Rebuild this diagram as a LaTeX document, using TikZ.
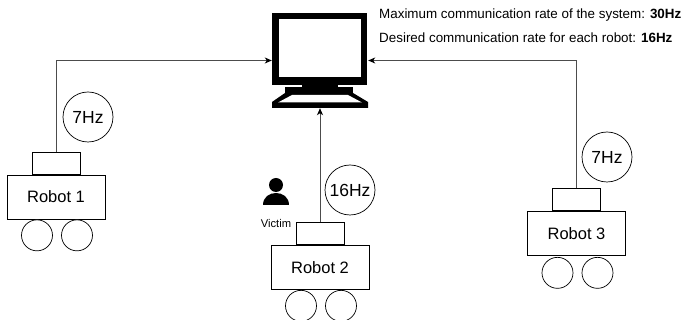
\documentclass[tikz,border=0pt]{standalone}
\usepackage{fontspec}
\setmainfont{Liberation Sans}
\usetikzlibrary{arrows.meta}
\begin{document}
\begin{tikzpicture}[x=1pt,y=-1pt,
  part/.style={draw=black,line width=0.7pt,fill=white,inner sep=0pt},
  body/.style={part,minimum width=98pt,minimum height=44pt,font=\fontsize{16.5}{18}\selectfont},
  mast/.style={part,minimum width=48pt,minimum height=22pt},
  wheel/.style={part,circle,minimum size=31pt},
  rate/.style={draw=black,line width=0.7pt,circle,minimum size=50pt,inner sep=0pt,font=\fontsize{17.5}{19}\selectfont},
  link/.style={draw=black!70,line width=0.9pt,-{Stealth[length=7pt,width=6pt,inset=2pt,black]}},
  info/.style={anchor=west,inner sep=0pt,font=\fontsize{13.4}{16}\selectfont}]
\useasboundingbox (0,0) rectangle (689,320);

% workstation
\fill[black] (272,13) rectangle (367,85);
\fill[white] (279,19) rectangle (361,77);
\fill[black] (302,84) rectangle (338,88);
\fill[black] (285,87) rectangle (353,93);
\fill[black] (285,93) -- (353,93) -- (368,102) -- (368,108) -- (272,108) -- (272,102) -- cycle;
\fill[white] (292,95) -- (348,95) -- (362,102.5) -- (278,102.5) -- cycle;
\node[minimum width=96pt,minimum height=95pt,inner sep=0pt] (pc) at (320,60.5) {};

% system information
\node[info] (maxrate) at (379,15) {Maximum communication rate of the system: \textbf{30Hz}};
\node[info] (desrate) at (379,38) {Desired communication rate for each robot: \textbf{16Hz}};

% robot 1
\node[body] (r1) at (56,197) {Robot 1};
\node[mast,anchor=south] (m1) at (r1.north) {};
\node[wheel] (w1a) at ([xshift=-19pt,yshift=-16pt]r1.south) {};
\node[wheel] (w1b) at ([xshift=21pt,yshift=-16pt]r1.south) {};
\node[rate] (f1) at (88,117) {7Hz};

% robot 2
\node[body] (r2) at (320,267.5) {Robot 2};
\node[mast,anchor=south] (m2) at (r2.north) {};
\node[wheel] (w2a) at ([xshift=-19pt,yshift=-16pt]r2.south) {};
\node[wheel] (w2b) at ([xshift=21pt,yshift=-16pt]r2.south) {};
\node[rate] (f2) at (350,190) {16Hz};

% robot 3
\node[body] (r3) at (576.5,233.5) {Robot 3};
\node[mast,anchor=south] (m3) at (r3.north) {};
\node[wheel] (w3a) at ([xshift=-19pt,yshift=-17pt]r3.south) {};
\node[wheel] (w3b) at ([xshift=21pt,yshift=-17pt]r3.south) {};
\node[rate] (f3) at (607,157) {7Hz};

% victim
\fill[black] (276,185) circle[radius=7];
\fill[black] (263,205) .. controls (263,189) and (289,189) .. (289,205) -- cycle;
\node[font=\fontsize{11.2}{13}\selectfont,inner sep=0pt] (victim) at (276,223) {Victim};

% links to the workstation
\draw[link] (m1.north) |- (pc.west);
\draw[link] (m3.north) |- (pc.east);
\draw[link] (m2.north) -- (pc.south);
\end{tikzpicture}
\end{document}
